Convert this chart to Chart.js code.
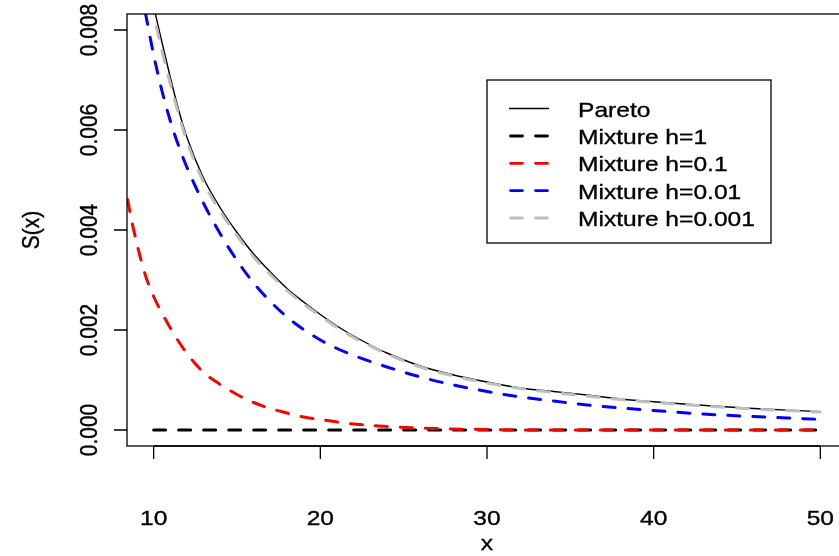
<!DOCTYPE html>
<html><head><meta charset="utf-8">
<script src="https://cdn.jsdelivr.net/npm/chart.js@4.4.0/dist/chart.umd.min.js"></script>
<style>
html,body{margin:0;padding:0;overflow:hidden;background:#fff;width:839px;height:556px}
#wrap{position:absolute;left:0;top:0;width:848px;height:556px}
</style>
</head><body><div id="wrap"><canvas id="c" width="848" height="556"></canvas></div>
<script>
// ---- data ----
const xValues = [8, 8.5, 9, 9.5, 10, 10.5, 11, 11.5, 12, 13, 14, 15, 16, 17, 18, 19, 20, 21, 22, 23, 24,
                 26, 28, 30, 32, 34, 36, 38, 40, 42, 44, 46, 48, 50];
const pareto = [null, null, null, 0.00928, 0.00848, 0.00775, 0.00705, 0.0064, 0.00585, 0.00503, 0.00444, 0.00395,
                0.00352, 0.00316, 0.00283, 0.00256, 0.00231, 0.00208, 0.00188, 0.0017, 0.00154,
                0.00128, 0.0011, 0.00096, 0.00084, 0.00077, 0.0007, 0.00062, 0.000565, 0.000515, 0.00047, 0.00043, 0.000397, 0.000368];
const mixH1 = [null, null, null, null, 0, 0, 0, 0, 0, 0, 0, 0, 0, 0, 0, 0, 0, 0, 0, 0, 0,
               0, 0, 0, 0, 0, 0, 0, 0, 0, 0, 0, 0, 0];
const mixH01 = [0.0056, 0.0045, 0.00372, 0.0031, 0.00267, 0.00234, 0.00204, 0.00177, 0.00153, 0.00115, 0.00091, 0.00071,
                0.00055, 0.00043, 0.00034, 0.00026, 0.00021, 0.00016, 0.00012, 0.00009, 0.00007,
                0.00004, 0.00002, 0.00001, 0, 0, 0, 0, 0, 0, 0, 0, 0, 0];
const mixH001 = [null, null, null, 0.00835, 0.0075, 0.00678, 0.00618, 0.00568, 0.00525, 0.00453, 0.00392, 0.00339,
                 0.00294, 0.00257, 0.00226, 0.00201, 0.0018, 0.00163, 0.00149, 0.00137, 0.00126,
                 0.00106, 0.0009, 0.00077, 0.00066, 0.00058, 0.0005, 0.00044, 0.00039, 0.00034, 0.0003, 0.00027, 0.00024, 0.000213];
const mixH0001 = [null, null, null, 0.00905, 0.0083, 0.00758, 0.00692, 0.00631, 0.00577, 0.00495, 0.00437, 0.00389,
                  0.00346, 0.00311, 0.00279, 0.00252, 0.00228, 0.00205, 0.00185, 0.00168, 0.00152,
                  0.00126, 0.00108, 0.00094, 0.00083, 0.00075, 0.00068, 0.00061, 0.00055, 0.000505, 0.00046, 0.00042, 0.000388, 0.00036];
const seriesNames = ["Pareto", "Mixture h=1", "Mixture h=0.1", "Mixture h=0.01", "Mixture h=0.001"];
const xTicks = [10, 20, 30, 40, 50];
const yTicks = [0, 0.002, 0.004, 0.006, 0.008];
const yTickLabels = ["0.000", "0.002", "0.004", "0.006", "0.008"];
const xTitle = "x";
const yTitle = "S(x)";

// ---- styling ----
const FONT = '"Liberation Sans", Arial, Helvetica, sans-serif';
const FS = 21;
const SX = 1.17;
const colors = ["#000000", "#000000", "#ff0000", "#0000ff", "#bebebe"];
const widths = [1.4, 3, 3, 3, 3];
const dashes = [[], [12, 13], [12, 13], [12, 13], [12, 13]];
const orders = [5, 4, 3, 2, 1];
const allSeries = [pareto, mixH1, mixH01, mixH001, mixH0001];

const datasets = allSeries.map((vals, i) => ({
  label: seriesNames[i],
  data: xValues.map((x, j) => ({x: x, y: vals[j]})),
  borderColor: colors[i],
  borderWidth: widths[i],
  borderDash: dashes[i],
  borderCapStyle: 'round',
  pointRadius: 0,
  fill: false,
  cubicInterpolationMode: 'monotone',
  order: orders[i],
  clip: 0
}));

function txt(ctx, s, x, y, align, rot) {
  ctx.save();
  ctx.translate(x, y);
  ctx.scale(SX, 1);
  if (rot) ctx.rotate(-Math.PI / 2);
  ctx.textAlign = align;
  ctx.textBaseline = 'alphabetic';
  ctx.fillText(s, 0, 0);
  ctx.lineWidth = 0.35;
  ctx.strokeStyle = ctx.fillStyle;
  ctx.strokeText(s, 0, 0);
  ctx.restore();
}

const rAxes = {
  id: 'rAxes',
  afterDraw(chart) {
    const ctx = chart.ctx;
    const a = chart.chartArea;
    const xs = chart.scales.x, ys = chart.scales.y;
    ctx.save();
    ctx.strokeStyle = '#000';
    ctx.fillStyle = '#000';
    ctx.lineWidth = 1.3;
    ctx.setLineDash([]);
    ctx.strokeRect(a.left, a.top, a.right - a.left, a.bottom - a.top);
    ctx.font = FS + 'px ' + FONT;
    // x axis
    ctx.beginPath();
    ctx.moveTo(xs.getPixelForValue(xTicks[0]), a.bottom);
    ctx.lineTo(xs.getPixelForValue(xTicks[xTicks.length - 1]), a.bottom);
    xTicks.forEach(t => {
      const px = xs.getPixelForValue(t);
      ctx.moveTo(px, a.bottom);
      ctx.lineTo(px, a.bottom + 13);
    });
    ctx.stroke();
    xTicks.forEach(t => txt(ctx, String(t), xs.getPixelForValue(t), 525, 'center', false));
    // y axis
    ctx.beginPath();
    yTicks.forEach(t => {
      const py = ys.getPixelForValue(t);
      ctx.moveTo(a.left, py);
      ctx.lineTo(a.left - 13, py);
    });
    ctx.stroke();
    yTicks.forEach((t, i) => txt(ctx, yTickLabels[i], 97, ys.getPixelForValue(t), 'center', true));
    // titles
    txt(ctx, xTitle, (a.left + 847) / 2, 550, 'center', false);
    txt(ctx, yTitle, 39, (a.top + a.bottom) / 2, 'center', true);
    // legend
    const L = {x: 487, y: 80, w: 284, h: 163};
    ctx.fillStyle = '#fff';
    ctx.fillRect(L.x, L.y, L.w, L.h);
    ctx.lineWidth = 1.3;
    ctx.strokeStyle = '#000';
    ctx.strokeRect(L.x, L.y, L.w, L.h);
    const rowY = [108.5, 136, 163.3, 190.6, 218];
    seriesNames.forEach((n, i) => {
      ctx.save();
      ctx.strokeStyle = colors[i];
      ctx.lineWidth = i === 0 ? 1.3 : 2.8;
      ctx.setLineDash(dashes[i]);
      ctx.lineCap = i === 0 ? 'butt' : 'round';
      ctx.beginPath();
      ctx.moveTo(i === 0 ? 509 : 510.5, rowY[i]);
      ctx.lineTo(549, rowY[i]);
      ctx.stroke();
      ctx.restore();
      ctx.fillStyle = '#000';
      txt(ctx, n, 578, rowY[i] + 8, 'left', false);
    });
    ctx.restore();
  }
};

new Chart(document.getElementById('c'), {
  type: 'line',
  data: {datasets: datasets},
  options: {
    responsive: false,
    animation: false,
    layout: {padding: {left: 127, top: 14, right: 1, bottom: 110}},
    scales: {
      x: {type: 'linear', min: 8.4, max: 51.6, display: false},
      y: {type: 'linear', min: -0.00032, max: 0.00832, display: false}
    },
    plugins: {legend: {display: false}, tooltip: {enabled: false}}
  },
  plugins: [rAxes]
});
</script>
</body></html>
